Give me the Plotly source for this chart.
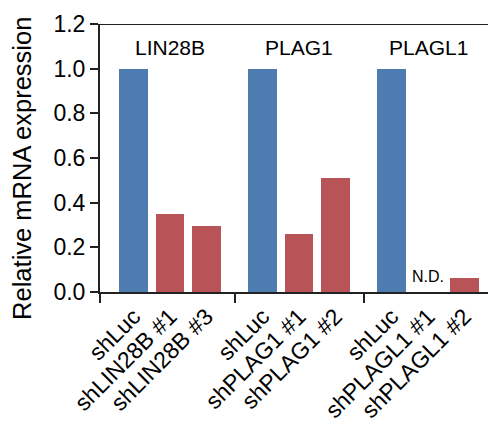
import plotly.graph_objects as go

groups = ["LIN28B", "PLAG1", "PLAGL1"]
labels = ["shLuc", "shLIN28B #1", "shLIN28B #3",
          "shLuc", "shPLAG1 #1", "shPLAG1 #2",
          "shLuc", "shPLAGL1 #1", "shPLAGL1 #2"]
values = [1.0, 0.35, 0.295,
          1.0, 0.26, 0.51,
          1.0, None, 0.063]
is_control = [True, False, False, True, False, False, True, False, False]
nd_flags = [False, False, False, False, False, False, False, True, False]
y_title = "Relative mRNA expression"

BLUE = "#4E7BB0"
RED = "#B85357"
GAP = 3.55
X_MIN = -0.93
X_MAX = 9.97

xs = []
for g in range(len(groups)):
    for i in range(3):
        xs.append(g * GAP + i)

seps = [X_MIN] + [((g - 1) * GAP + 2 + g * GAP) / 2 for g in range(1, len(groups))]

font = "Liberation Sans, Arial, sans-serif"

fig = go.Figure()
fig.add_trace(go.Bar(
    x=xs, y=[v if v is not None else 0 for v in values],
    width=0.79,
    marker=dict(color=[BLUE if c else RED for c in is_control], line=dict(width=0)),
    showlegend=False,
))

for g, name in enumerate(groups):
    fig.add_annotation(x=g * GAP + 1, y=1.095, text=name, showarrow=False,
                       font=dict(size=21, color="black", family=font),
                       xanchor="center", yanchor="middle")

for x, nd in zip(xs, nd_flags):
    if nd:
        fig.add_annotation(x=x, y=0.0, text="N.D.", showarrow=False,
                           font=dict(size=16, color="black", family=font),
                           xanchor="center", yanchor="bottom", yshift=5)

fig.add_annotation(xref="paper", yref="paper", x=-0.197, y=0.463, text=y_title,
                   textangle=-90, showarrow=False, xanchor="center", yanchor="middle",
                   font=dict(size=25.5, family=font, color="black"))

fig.add_shape(type="line", xref="paper", yref="y", x0=0, x1=1, y0=1.2, y1=1.2,
              line=dict(color="#222", width=2))

fig.update_layout(
    width=488, height=422,
    margin=dict(l=92, r=0, t=16, b=138),
    plot_bgcolor="white", paper_bgcolor="white",
    font=dict(family=font, color="black"),
    bargap=0,
)
fig.update_xaxes(
    range=[X_MIN, X_MAX], tickvals=xs, ticktext=labels, tickangle=-45,
    ticks="", showline=True, linecolor="#222", linewidth=2,
    tickfont=dict(size=23, family=font, color="black"),
    showgrid=False, zeroline=False, automargin=False,
    minor=dict(tickvals=seps, ticks="outside", ticklen=9, tickwidth=2, tickcolor="#222", showgrid=False),
)
fig.update_yaxes(
    range=[0, 1.2], tickvals=[0, 0.2, 0.4, 0.6, 0.8, 1.0, 1.2], tickformat=".1f",
    ticks="outside", ticklen=8, tickwidth=2, tickcolor="#222",
    showline=True, linecolor="#222", linewidth=2,
    tickfont=dict(size=23, family=font, color="black"),
    showgrid=False, zeroline=False, automargin=False,
)

fig.write_html("out.html")
